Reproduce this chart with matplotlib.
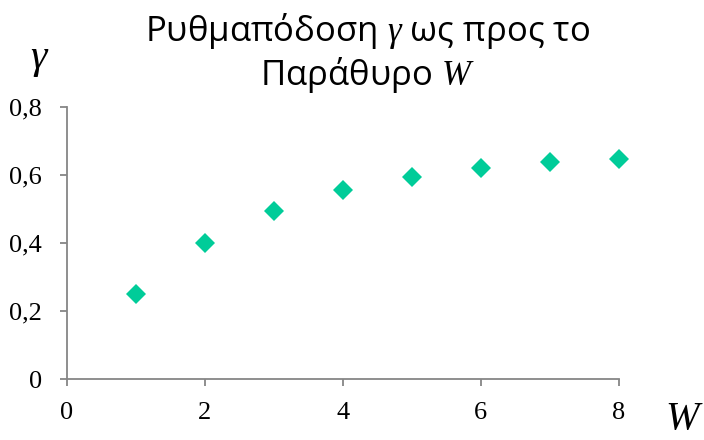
import matplotlib
matplotlib.use("Agg")
from matplotlib import pyplot as plt

# window size W and throughput gamma
window = [1, 2, 3, 4, 5, 6, 7, 8]
gamma = [0.25, 0.40, 0.494, 0.556, 0.594, 0.619, 0.637, 0.647]
x_ticks = [0, 2, 4, 6, 8]
y_ticks = [0, 0.2, 0.4, 0.6, 0.8]
y_labels = ["0", "0,2", "0,4", "0,6", "0,8"]

plt.rcParams["font.family"] = ["Liberation Serif", "DejaVu Serif"]
plt.rcParams["mathtext.fontset"] = "custom"
plt.rcParams["mathtext.it"] = "Liberation Serif:italic"
plt.rcParams["mathtext.rm"] = "Liberation Serif"

fig = plt.figure(figsize=(7.04, 4.4), dpi=100)
ax = fig.add_axes([0.0952, 0.138, 0.7834, 0.6195])

ax.plot(window, gamma, linestyle="none", marker="D", markersize=10.5,
        color="#00CC99", markeredgewidth=0, clip_on=False)

ax.set_xlim(0, 8)
ax.set_ylim(0, 0.8)
ax.set_xticks(x_ticks)
ax.set_xticklabels([str(t) for t in x_ticks], fontfamily="Liberation Serif")
ax.set_yticks(y_ticks)
ax.set_yticklabels(y_labels, fontfamily="Liberation Serif")

for s in ["top", "right"]:
    ax.spines[s].set_visible(False)
for s in ["left", "bottom"]:
    ax.spines[s].set_color("#868686")
    ax.spines[s].set_linewidth(1.3)
ax.tick_params(direction="out", length=5, width=1.3, color="#868686",
               labelsize=19)
ax.tick_params(axis="y", pad=13)
ax.tick_params(axis="x", pad=11)

title_font = ["Open Sans", "DejaVu Sans"]
fig.text(0.522, 0.93, "Ρυθμαπόδοση $\\gamma$ ως προς το", ha="center", va="center",
         fontsize=25, family=title_font)
fig.text(0.522, 0.83, "Παράθυρο $W$", ha="center", va="center",
         fontsize=25, family=title_font)

# axis labels
fig.text(0.057, 0.865, "$\\gamma$", ha="center", va="center", fontsize=30)
fig.text(0.972, 0.046, "$W$", ha="center", va="center", fontsize=29)

fig.savefig("out.png", dpi=100)
